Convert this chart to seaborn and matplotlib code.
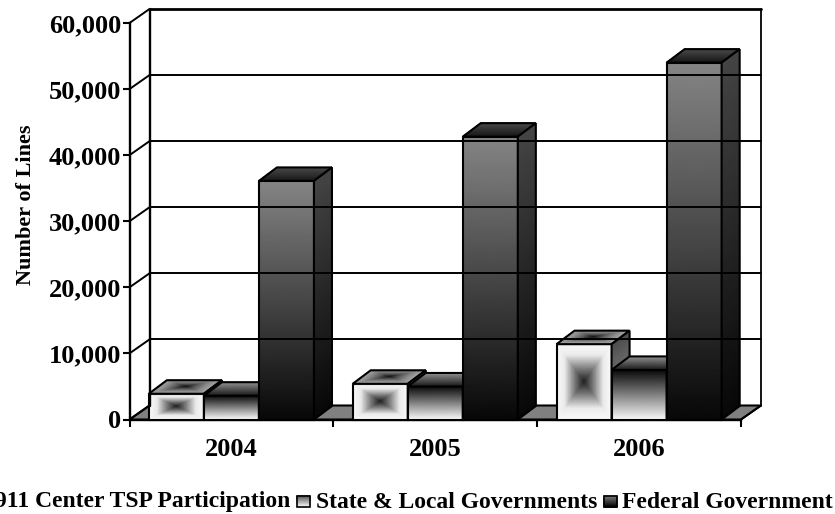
import matplotlib
matplotlib.use("Agg")
import matplotlib.pyplot as plt
from matplotlib.patches import Polygon
import numpy as np
import pandas as pd
import seaborn as sns

years = ["2004", "2005", "2006"]
series_names = ["911 Center TSP Participation", "State & Local Governments", "Federal Government"]
center_lines = [3900, 5400, 11400]
state_lines = [3600, 5000, 7500]
federal_lines = [36100, 42800, 54000]
y_ticks = [0, 10000, 20000, 30000, 40000, 50000, 60000]

W, H = 835, 514
WALL_DX, WALL_DY = 20, -14
BAR_DX, BAR_DY = 18, -13.5

sns.set_theme(style="white")
plt.rcParams["font.family"] = ["Liberation Serif", "DejaVu Serif"]
plt.rcParams["font.weight"] = "bold"

df = pd.DataFrame({
    "year": years * 3,
    "lines": center_lines + state_lines + federal_lines,
    "series": [s for s in series_names for _ in years],
})

fig = plt.figure(figsize=(W / 100, H / 100), dpi=100, facecolor="white")
ax = fig.add_axes([129.5 / W, (H - 419.5) / H, 611.5 / W, 396.5 / H])
sns.barplot(data=df, x="year", y="lines", hue="series", width=0.81, gap=0,
            palette=["0.9", "0.5", "0.2"], legend=False, ax=ax)
ax.set_xlim(-0.5, 2.5)
ax.set_ylim(0, 60000)
ax.set_yticks(y_ticks)
ax.set_yticklabels([f"{t:,}" for t in y_ticks], fontsize=19, fontweight="bold", color="black")
ax.set_xticks([-0.5, 0.5, 1.5, 2.5])
ax.set_xticklabels([])
ax.set_xticks([0, 1, 2], minor=True)
ax.set_xticklabels(years, minor=True, fontsize=19, fontweight="bold", color="black")
ax.tick_params(axis="both", which="major", length=5, width=1.5, color="black", left=True, bottom=True, pad=1)
ax.tick_params(axis="x", which="minor", length=0, pad=13)
ax.set_xlabel("")
ax.set_ylabel("Number of Lines", fontsize=16, fontweight="bold", color="black")
ax.yaxis.set_label_coords(-0.153, 0.541)
for side in ["top", "right"]:
    ax.spines[side].set_visible(False)
for side in ["left", "bottom"]:
    ax.spines[side].set_color("black")
    ax.spines[side].set_linewidth(1.7)

over = fig.add_axes([0, 0, 1, 1], zorder=5)
over.set_xlim(0, W)
over.set_ylim(H, 0)
over.axis("off")
over.autoscale(False)


def px(x, y):
    dx, dy = ax.transData.transform((x, y))
    return dx, H - dy


def shade(p00, p10, p01, p11, grid, lw=1.5):
    # p00 top-left, p10 top-right, p01 bottom-left, p11 bottom-right of the grid
    grid = np.asarray(grid)
    v, u = np.meshgrid(np.linspace(0, 1, grid.shape[0]), np.linspace(0, 1, grid.shape[1]), indexing="ij")
    corners = np.array([p00, p10, p01, p11], dtype=float)
    xs = (1 - u) * (1 - v) * corners[0, 0] + u * (1 - v) * corners[1, 0] + (1 - u) * v * corners[2, 0] + u * v * corners[3, 0]
    ys = (1 - u) * (1 - v) * corners[0, 1] + u * (1 - v) * corners[1, 1] + (1 - u) * v * corners[2, 1] + u * v * corners[3, 1]
    over.pcolormesh(xs, ys, grid, shading="gouraud", cmap="gray", vmin=0, vmax=1)
    over.add_patch(Polygon([p00, p10, p11, p01], closed=True, fill=False, edgecolor="black", linewidth=lw))


def box_grad(levels, stops=(0, 0.35, 0.7, 1), n=41):
    t = np.linspace(-1, 1, n)
    d = np.maximum(np.abs(t)[:, None], np.abs(t)[None, :])
    return np.interp(d, stops, levels)


def vert_grad(top, bottom, n=41):
    return np.tile(np.linspace(top, bottom, n)[:, None], (1, 2))


FRONT_BOX = (0.13, 0.5, 0.92, 0.98)
TOP_BOX = (0.08, 0.35, 0.55, 0.66)

# walls and floor
x_l, y_b = px(-0.5, 0)
x_r, _ = px(2.5, 0)
_, y_t = px(-0.5, 60000)
over.add_patch(Polygon([(x_l, y_b), (x_l + WALL_DX, y_b + WALL_DY), (x_r + WALL_DX, y_b + WALL_DY), (x_r, y_b)],
                       closed=True, facecolor="0.5", edgecolor="black", linewidth=1.5))
for t in y_ticks:
    _, yy = px(0, t)
    over.plot([x_l, x_l + WALL_DX], [yy, yy + WALL_DY], color="black", lw=1.4, solid_capstyle="butt")
    if t:
        over.plot([x_l + WALL_DX, x_r + WALL_DX], [yy + WALL_DY, yy + WALL_DY], color="black",
                  lw=2.0 if t == y_ticks[-1] else 1.4)
over.plot([x_l + WALL_DX] * 2, [y_t + WALL_DY, y_b + WALL_DY], color="black", lw=1.7)
over.plot([x_r + WALL_DX] * 2, [y_t + WALL_DY, y_b + WALL_DY], color="black", lw=1.3)
over.plot([x_r, x_r + WALL_DX], [y_b, y_b + WALL_DY], color="black", lw=1.3)

# 3D faces on top of the seaborn bars, positions come from the bar patches
faces = [
    (box_grad(FRONT_BOX), box_grad(TOP_BOX), vert_grad(0.3, 0.6)),
    (vert_grad(0.03, 0.97), vert_grad(0.6, 0.12), vert_grad(0.3, 0.1)),
    (vert_grad(0.52, 0.03), vert_grad(0.3, 0.1), vert_grad(0.27, 0.03)),
]
for g in range(len(years)):
    for cont, (front, top, side) in zip(ax.containers, faces):
        bar = cont.patches[g]
        x0, y1 = px(bar.get_x(), 0)
        x1, y0 = px(bar.get_x() + bar.get_width(), bar.get_height())
        shade((x0, y0), (x1, y0), (x0, y1), (x1, y1), front)
        shade((x0 + BAR_DX, y0 + BAR_DY), (x1 + BAR_DX, y0 + BAR_DY), (x0, y0), (x1, y0), top)
        shade((x1, y0), (x1 + BAR_DX, y0 + BAR_DY), (x1, y1), (x1 + BAR_DX, y1 + BAR_DY), side)

# legend, first entry runs off the left edge like in the source
legend_y = 502
over.text(-5, legend_y, series_names[0], fontsize=17, fontweight="bold", color="black", va="center", ha="left", clip_on=False)
over.text(316, legend_y, series_names[1], fontsize=17, fontweight="bold", color="black", va="center", ha="left")
over.text(622, legend_y, series_names[2], fontsize=17, fontweight="bold", color="black", va="center", ha="left")
shade((297, 496), (310, 496), (297, 507), (310, 507), vert_grad(0.3, 0.97), lw=1.2)
shade((604, 496), (617, 496), (604, 507), (617, 507), vert_grad(0.52, 0.03), lw=1.2)

fig.savefig("out.png", dpi=100)
